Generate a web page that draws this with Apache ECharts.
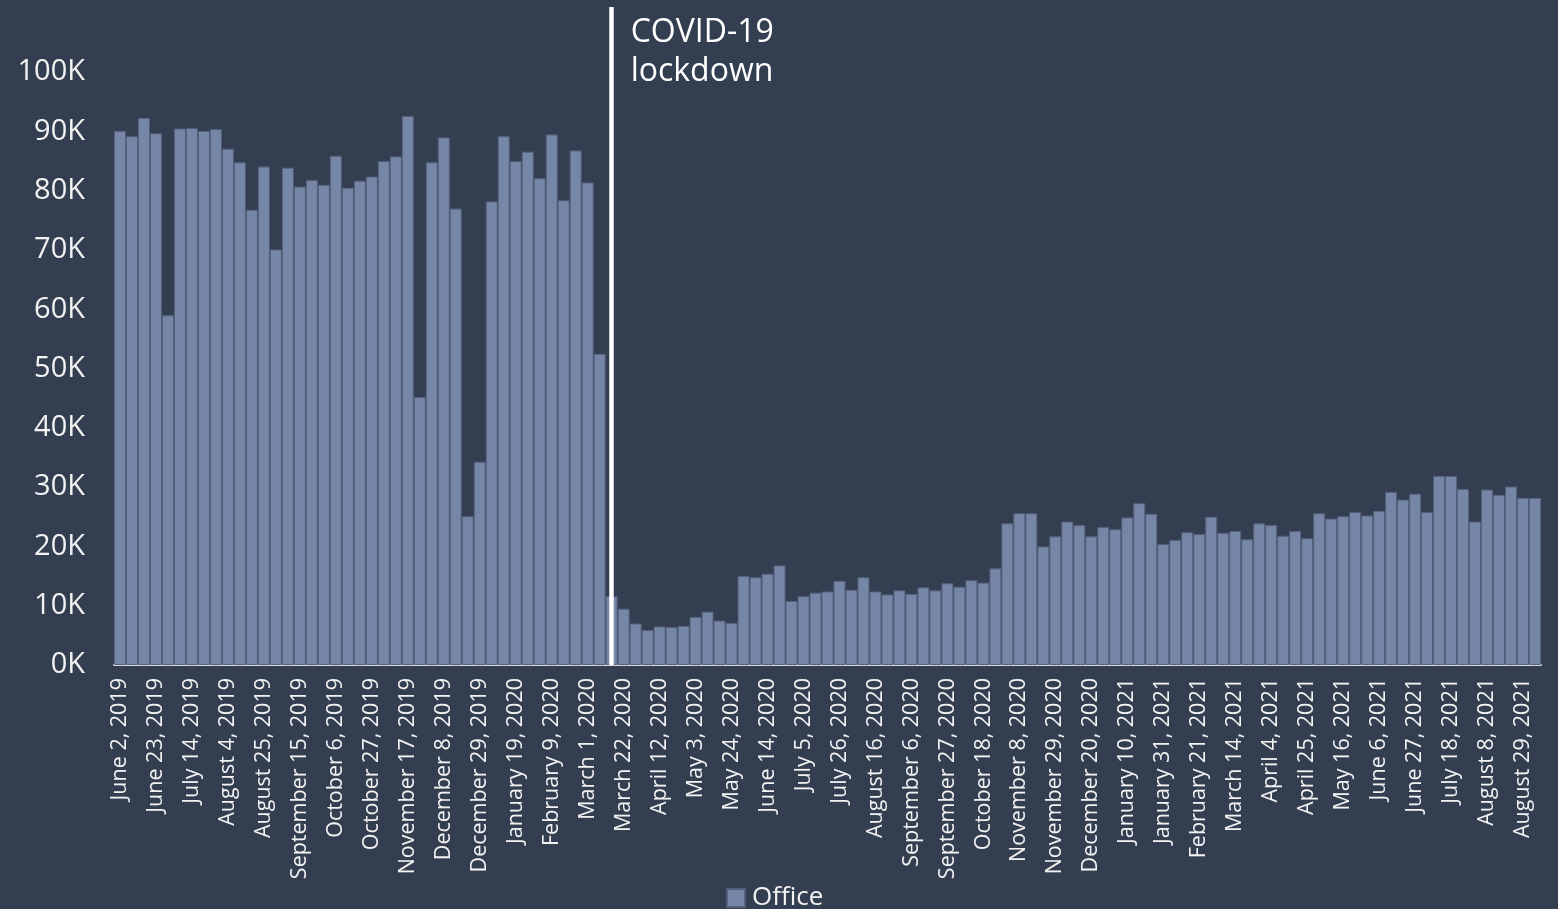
<!DOCTYPE html>
<html>
<head>
<meta charset="utf-8">
<title>Office visits by week</title>
<script src="https://cdn.jsdelivr.net/npm/echarts@6/dist/echarts.min.js"></script>
<style>
  html, body { margin: 0; padding: 0; background: #343e51; }
  #chart { width: 1558px; height: 909px; }
</style>
</head>
<body>
<div id="chart"></div>
<script>
// Week-start dates (Sundays), June 2019 – September 2021
const weeks = [
  'June 2, 2019', 'June 9, 2019', 'June 16, 2019', 'June 23, 2019', 'June 30, 2019',
  'July 7, 2019', 'July 14, 2019', 'July 21, 2019', 'July 28, 2019',
  'August 4, 2019', 'August 11, 2019', 'August 18, 2019', 'August 25, 2019',
  'September 1, 2019', 'September 8, 2019', 'September 15, 2019', 'September 22, 2019', 'September 29, 2019',
  'October 6, 2019', 'October 13, 2019', 'October 20, 2019', 'October 27, 2019',
  'November 3, 2019', 'November 10, 2019', 'November 17, 2019', 'November 24, 2019',
  'December 1, 2019', 'December 8, 2019', 'December 15, 2019', 'December 22, 2019', 'December 29, 2019',
  'January 5, 2020', 'January 12, 2020', 'January 19, 2020', 'January 26, 2020',
  'February 2, 2020', 'February 9, 2020', 'February 16, 2020', 'February 23, 2020',
  'March 1, 2020', 'March 8, 2020', 'March 15, 2020', 'March 22, 2020', 'March 29, 2020',
  'April 5, 2020', 'April 12, 2020', 'April 19, 2020', 'April 26, 2020',
  'May 3, 2020', 'May 10, 2020', 'May 17, 2020', 'May 24, 2020', 'May 31, 2020',
  'June 7, 2020', 'June 14, 2020', 'June 21, 2020', 'June 28, 2020',
  'July 5, 2020', 'July 12, 2020', 'July 19, 2020', 'July 26, 2020',
  'August 2, 2020', 'August 9, 2020', 'August 16, 2020', 'August 23, 2020', 'August 30, 2020',
  'September 6, 2020', 'September 13, 2020', 'September 20, 2020', 'September 27, 2020',
  'October 4, 2020', 'October 11, 2020', 'October 18, 2020', 'October 25, 2020',
  'November 1, 2020', 'November 8, 2020', 'November 15, 2020', 'November 22, 2020', 'November 29, 2020',
  'December 6, 2020', 'December 13, 2020', 'December 20, 2020', 'December 27, 2020',
  'January 3, 2021', 'January 10, 2021', 'January 17, 2021', 'January 24, 2021', 'January 31, 2021',
  'February 7, 2021', 'February 14, 2021', 'February 21, 2021', 'February 28, 2021',
  'March 7, 2021', 'March 14, 2021', 'March 21, 2021', 'March 28, 2021',
  'April 4, 2021', 'April 11, 2021', 'April 18, 2021', 'April 25, 2021',
  'May 2, 2021', 'May 9, 2021', 'May 16, 2021', 'May 23, 2021', 'May 30, 2021',
  'June 6, 2021', 'June 13, 2021', 'June 20, 2021', 'June 27, 2021',
  'July 4, 2021', 'July 11, 2021', 'July 18, 2021', 'July 25, 2021',
  'August 1, 2021', 'August 8, 2021', 'August 15, 2021', 'August 22, 2021', 'August 29, 2021',
  'September 5, 2021'
];

// Weekly office visits
const office = [
  90100, 89200, 92300, 89700, 59000, 90500, 90600, 90100, 90400, 87100,
  84800, 76800, 84100, 70100, 83900, 80700, 81800, 81000, 85900, 80500,
  81700, 82400, 85000, 85800, 92600, 45200, 84800, 89000, 77000, 25100,
  34300, 78200, 89200, 85000, 86600, 82100, 89500, 78400, 86800, 81400,
  52500, 11600, 9500, 7000, 5900, 6500, 6400, 6600, 8100, 9000,
  7500, 7100, 15000, 14800, 15400, 16800, 10800, 11600, 12200, 12400,
  14200, 12700, 14800, 12400, 11900, 12600, 12000, 13100, 12600, 13800,
  13200, 14300, 13900, 16300, 23900, 25600, 25600, 20000, 21700, 24200,
  23600, 21700, 23300, 22900, 24900, 27300, 25500, 20400, 21100, 22400,
  22100, 25000, 22300, 22600, 21200, 23900, 23600, 21800, 22600, 21400,
  25600, 24700, 25100, 25800, 25200, 26000, 29200, 27900, 28900, 25800,
  31900, 31900, 29700, 24200, 29600, 28700, 30100, 28200, 28200
];

// Week the lockdown line marks, and its caption
const lockdownWeek = 'March 15, 2020';
const lockdownText = 'COVID-19\nlockdown';

// Y-axis range and step
const yMax = 111000;
const yStep = 10000;
const yLabelTop = 100000;

const FONT = '"Open Sans", "Noto Sans", sans-serif';
const TEXT = '#f2f2f2';

const chart = echarts.init(document.getElementById('chart'), null, { renderer: 'canvas' });

chart.setOption({
  backgroundColor: '#343e51',
  animation: false,
  textStyle: { fontFamily: FONT },
  grid: {
    left: 114, right: 17, top: 7, bottom: 244,
    containLabel: false,
    outerBoundsMode: 'none'
  },
  legend: {
    data: ['Office'],
    left: 721,
    top: 880,
    icon: 'rect',
    itemWidth: 18,
    itemHeight: 18,
    itemGap: 20,
    textStyle: { color: TEXT, fontSize: 26, fontFamily: FONT, padding: [0, 0, 0, 2] }
  },
  xAxis: {
    type: 'category',
    data: weeks,
    axisLine: { show: true, lineStyle: { color: '#d9d9d9', width: 2 } },
    axisTick: { show: false },
    splitLine: { show: false },
    axisLabel: {
      interval: 2,
      rotate: 90,
      margin: 13,
      color: TEXT,
      fontSize: 21.5,
      fontFamily: FONT
    }
  },
  yAxis: {
    type: 'value',
    min: 0,
    max: yMax,
    interval: yStep,
    axisLine: { show: false },
    axisTick: { show: false },
    splitLine: { show: false },
    axisLabel: {
      showMaxLabel: false,
      margin: 29,
      color: TEXT,
      fontSize: 29,
      fontFamily: FONT,
      formatter: v => (v > yLabelTop ? '' : (v / 1000) + 'K')
    }
  },
  series: [{
    name: 'Office',
    type: 'bar',
    data: office,
    barCategoryGap: '0%',
    itemStyle: {
      color: '#7686a7',
      borderColor: '#55617c',
      borderWidth: 1
    },
    markLine: {
      silent: true,
      symbol: ['none', 'none'],
      label: { show: false },
      lineStyle: { color: '#ffffff', width: 4.5, type: 'solid' },
      data: [{ xAxis: lockdownWeek }],
      z: 10
    }
  }]
});

// Caption placed beside the lockdown line
const lineX = chart.convertToPixel({ xAxisIndex: 0 }, lockdownWeek);
chart.setOption({
  graphic: [{
    type: 'text',
    x: lineX + 19,
    y: 13,
    z: 20,
    style: {
      text: lockdownText,
      fill: '#ffffff',
      font: '32px ' + FONT,
      lineHeight: 39,
      align: 'left',
      verticalAlign: 'top'
    }
  }]
});
</script>
</body>
</html>
